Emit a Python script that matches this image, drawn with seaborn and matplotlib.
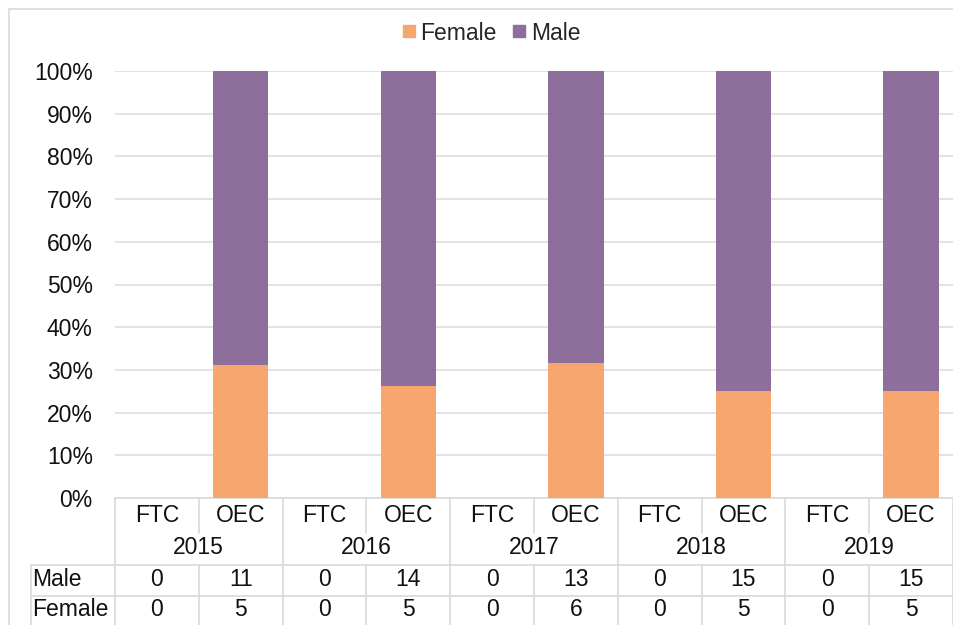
import matplotlib
matplotlib.use("Agg")
import matplotlib.pyplot as plt
import seaborn as sns
import numpy as np
import pandas as pd
from matplotlib.transforms import blended_transform_factory
from matplotlib.lines import Line2D
from matplotlib.patches import Rectangle

# ---- data ----
years = ["2015", "2016", "2017", "2018", "2019"]
types = ["FTC", "OEC"]
male = [0, 11, 0, 14, 0, 13, 0, 15, 0, 15]
female = [0, 5, 0, 5, 0, 6, 0, 5, 0, 5]
y_ticks = [0, 10, 20, 30, 40, 50, 60, 70, 80, 90, 100]

cat_ids = [f"{y} {t}" for y in years for t in types]
cat_types = [t for y in years for t in types]
totals = [m + f for m, f in zip(male, female)]
female_pct = [100 * f / t if t else 0 for f, t in zip(female, totals)]
full_pct = [100 if t else 0 for t in totals]
df = pd.DataFrame({"cat": cat_ids, "full": full_pct, "female": female_pct})

ORANGE = "#F6A66E"
PURPLE = "#8E6F9C"
GRID = "#DEDEDE"
LINE = "#D9D9D9"
TXT = "#111111"

sns.set_theme(style="white")
plt.rcParams["font.family"] = ["Liberation Sans", "DejaVu Sans"]
FS = 16.5

W, H = 954, 625
fig = plt.figure(figsize=(W / 100, H / 100), dpi=100)
def fx(p): return p / W
def fy(p): return 1 - p / H

ax_left, ax_right, ax_top, ax_bot = 115, 953, 71, 498
ax = fig.add_axes([fx(ax_left), fy(ax_bot), fx(ax_right - ax_left), (ax_bot - ax_top) / H])

sns.barplot(data=df, x="cat", y="full", order=cat_ids, color=PURPLE, saturation=1,
            width=0.66, ax=ax, zorder=3, linewidth=0, edgecolor="none")
sns.barplot(data=df, x="cat", y="female", order=cat_ids, color=ORANGE, saturation=1,
            width=0.66, ax=ax, zorder=4, linewidth=0, edgecolor="none")

ax.set_xlim(-0.5, len(cat_ids) - 0.5)
ax.set_ylim(0, 100)
ax.set_yticks(y_ticks)
ax.set_yticklabels([f"{v}%" for v in y_ticks], fontsize=FS, color=TXT)
ax.tick_params(axis="y", length=0, pad=16)
ax.set_xticks([])
ax.set_xlabel("")
ax.set_ylabel("")
for s in ax.spines.values():
    s.set_visible(False)
ax.yaxis.grid(True, color=GRID, linewidth=1.2, zorder=0)
ax.set_axisbelow(True)

# ---- data table below the axes ----
trans = blended_transform_factory(ax.transData, fig.transFigure)
n = len(cat_ids)

def vline(xd, p0, p1):
    ax.add_line(Line2D([xd, xd], [fy(p0), fy(p1)], transform=trans, color=LINE,
                       linewidth=1.2, clip_on=False))

# 0% baseline
ax.add_line(Line2D([-0.5, n - 0.5], [fy(ax_bot), fy(ax_bot)], transform=trans,
                   color=LINE, linewidth=1.2, clip_on=False))

# category row
for i, t in enumerate(cat_types):
    ax.text(i, fy(516), t, transform=trans, ha="center", va="center", fontsize=FS, color=TXT)
for i in range(n + 1):
    if i % 2 == 0:
        vline(i - 0.5, ax_bot, 630)
    else:
        vline(i - 0.5, ax_bot, 533)
# year row
for j, yv in enumerate(years):
    ax.text(2 * j + 0.5, fy(548), yv, transform=trans, ha="center", va="center",
            fontsize=FS, color=TXT)
# data rows
for i in range(n):
    ax.text(i, fy(579), str(male[i]), transform=trans, ha="center", va="center",
            fontsize=FS, color=TXT)
    ax.text(i, fy(610), str(female[i]), transform=trans, ha="center", va="center",
            fontsize=FS, color=TXT)
for i in range(1, n, 2):
    vline(i - 0.5, 565, 630)

fig.add_artist(Line2D([fx(31), fx(960)], [fy(565), fy(565)], color=LINE, linewidth=1.2))
fig.add_artist(Line2D([fx(31), fx(960)], [fy(596), fy(596)], color=LINE, linewidth=1.2))
fig.add_artist(Line2D([fx(31), fx(31)], [fy(565), fy(630)], color=LINE, linewidth=1.2))
fig.text(fx(32), fy(579), "Male", ha="left", va="center", fontsize=FS, color=TXT)
fig.text(fx(32), fy(610), "Female", ha="left", va="center", fontsize=FS, color=TXT)

# outer border
fig.add_artist(Rectangle((fx(9), fy(640)), fx(960), (640 - 9) / H, transform=fig.transFigure,
                         fill=False, edgecolor=LINE, linewidth=1.2))

# legend
handles = [Line2D([], [], marker="s", linestyle="none", markersize=8, color=ORANGE, label="Female"),
           Line2D([], [], marker="s", linestyle="none", markersize=8, color=PURPLE, label="Male")]
fig.legend(handles=handles, loc="center", bbox_to_anchor=(fx(490), fy(33)), ncol=2,
           frameon=False, fontsize=FS, handletextpad=0.1, columnspacing=0.6, handlelength=0.8)

fig.savefig("out.png", dpi=100)
